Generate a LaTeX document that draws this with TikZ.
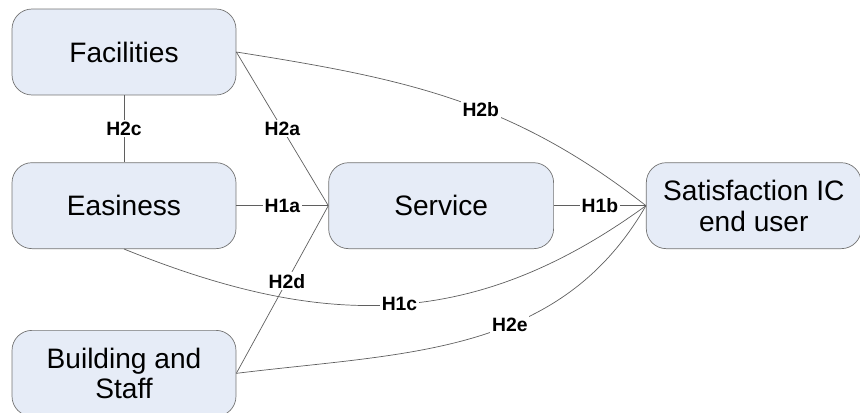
\documentclass[tikz,border=0pt]{standalone}
\usepackage{fontspec}
\setmainfont{Liberation Sans}
\usetikzlibrary{positioning}
\definecolor{boxfill}{RGB}{230,236,247}
\definecolor{boxline}{RGB}{115,115,115}
\definecolor{linkline}{RGB}{95,95,95}

\begin{document}
\begin{tikzpicture}[x=0.02cm, y=-0.02cm, thin, node distance=1.84cm,
        factor/.style={draw=boxline, fill=boxfill, rounded corners=0.4cm, minimum width=4.48cm,
            minimum height=1.72cm, align=center, inner sep=2pt,
            font=\fontsize{16}{17.5}\selectfont},
        hyp/.style={fill=white, inner sep=1pt, font=\bfseries\fontsize{11}{12}\selectfont}]
        \useasboundingbox (0,0) rectangle (860,413);

        \node[factor] (fac) at (124,52) {Facilities};
        \node[factor, below=1.34cm of fac] (eas) {Easiness};
        \node[factor, below=1.62cm of eas] (bld) {Building and\\Staff};
        \node[factor, right=of eas, minimum width=4.5cm] (srv) {Service};
        \node[factor, right=of srv, minimum width=4.3cm] (sat) {Satisfaction IC\\end user};

        \path[draw=linkline]
            (fac) edge node[hyp] {H2c} (eas)
            (fac.east) edge node[hyp] {H2a} (srv.west)
                edge[out=-9, in=142] node[hyp, pos=0.57] {H2b} (sat.west)
            (eas) edge node[hyp] {H1a} (srv)
            (srv) edge node[hyp] {H1b} (sat)
            (eas.south) edge[out=-22, in=-144, looseness=1.05] node[hyp, pos=0.51] {H1c} (sat.west)
            (bld.east) edge node[hyp, pos=0.55] {H2d} (srv.west)
                edge[out=7, in=-120] node[hyp, pos=0.59] {H2e} (sat.west);
\end{tikzpicture}
\end{document}
